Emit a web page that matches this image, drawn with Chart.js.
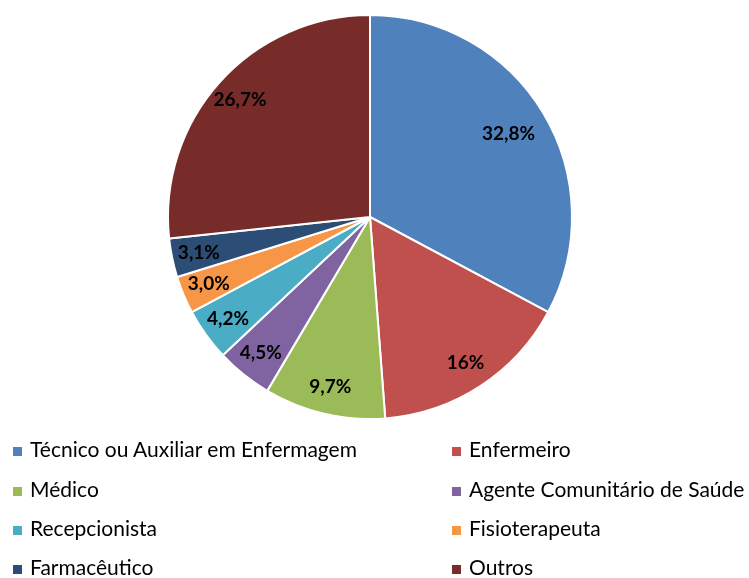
<!DOCTYPE html>
<html>
<head>
<meta charset="utf-8">
<script src="https://cdn.jsdelivr.net/npm/chart.js@4"></script>
<style>
    html, body { margin: 0; padding: 0; background: #ffffff; }
    #wrap { position: relative; width: 749px; height: 578px; }
    #pieChart { position: absolute; left: 0; top: 0; }
    .legend-item {
        position: absolute;
        font-family: 'Lato', sans-serif;
        font-size: 21px;
        color: #000;
        white-space: nowrap;
        line-height: 22px;
    }
    .legend-item span.box {
        display: inline-block;
        width: 9px;
        height: 9px;
        margin-right: 8px;
        vertical-align: 1px;
    }
</style>
</head>
<body>
<div id="wrap">
    <canvas id="pieChart" width="749" height="578"></canvas>
</div>
<script>
// Data
const categories = [
    'Técnico ou Auxiliar em Enfermagem',
    'Enfermeiro',
    'Médico',
    'Agente Comunitário de Saúde',
    'Recepcionista',
    'Fisioterapeuta',
    'Farmacêutico',
    'Outros'
];
const shares = [32.8, 16, 9.7, 4.5, 4.2, 3.0, 3.1, 26.7];
const shareLabels = ['32,8%', '16%', '9,7%', '4,5%', '4,2%', '3,0%', '3,1%', '26,7%'];
const sliceColors = ['#4F81BD', '#C0504D', '#9BBB59', '#8064A2', '#4BACC6', '#F79646', '#2C4D75', '#772C2A'];

// Labels inside each slice, along its middle angle
const sliceLabels = {
    id: 'sliceLabels',
    afterDatasetsDraw(chart) {
        const ctx = chart.ctx;
        const meta = chart.getDatasetMeta(0);
        ctx.save();
        ctx.font = 'bold 19px Lato, sans-serif';
        ctx.fillStyle = '#000';
        ctx.textAlign = 'center';
        ctx.textBaseline = 'middle';
        meta.data.forEach((arc, i) => {
            const mid = (arc.startAngle + arc.endAngle) / 2;
            const r = arc.outerRadius * (i === 0 ? 0.8 : 0.865);
            ctx.fillText(shareLabels[i], arc.x + Math.cos(mid) * r, arc.y + Math.sin(mid) * r);
        });
        ctx.restore();
    }
};

new Chart(document.getElementById('pieChart'), {
    type: 'pie',
    data: {
        labels: categories,
        datasets: [{
            data: shares,
            backgroundColor: sliceColors,
            borderColor: '#ffffff',
            borderWidth: 2
        }]
    },
    options: {
        responsive: false,
        animation: false,
        layout: { padding: { top: 14, bottom: 158, left: 0, right: 9 } },
        plugins: {
            legend: { display: false },
            tooltip: { enabled: false }
        }
    },
    plugins: [sliceLabels]
});

// Two-column legend below the pie
const wrap = document.getElementById('wrap');
const rowTops = [438, 478, 517, 556];
categories.forEach((name, i) => {
    const div = document.createElement('div');
    div.className = 'legend-item';
    div.style.left = (i % 2 === 0 ? 13 : 452) + 'px';
    div.style.top = rowTops[Math.floor(i / 2)] + 'px';
    div.innerHTML = `<span class="box" style="background:${sliceColors[i]}"></span>${name}`;
    wrap.appendChild(div);
});
</script>
</body>
</html>
